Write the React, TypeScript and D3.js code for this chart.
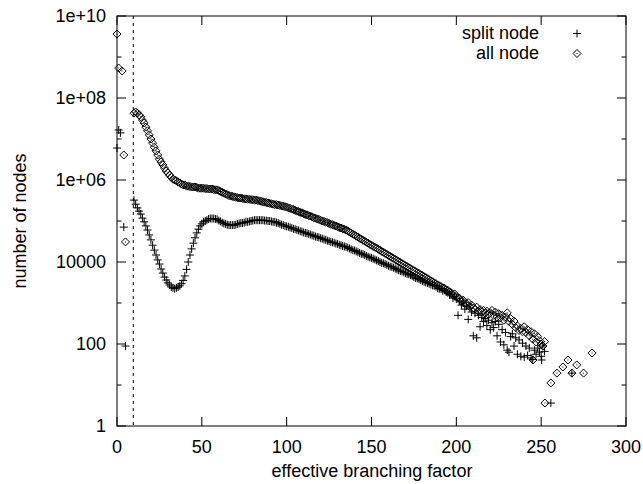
import React from 'react';
import * as d3 from 'd3';

// ---- data (values are log10 of node counts) ----
const xTickValues = [0, 50, 100, 150, 200, 250, 300];
const yMajorTicks = [1, 100, 1e4, 1e6, 1e8, 1e10];
const yMajorLabels = ['1', '100', '10000', '1e+06', '1e+08', '1e+10'];
const yMinorTicks = [10, 1e3, 1e5, 1e7, 1e9];
const cutoffX = 9.6;

const splitHeadX = [0, 1, 2, 4, 5];
const splitHeadLog = [6.78, 7.22, 7.15, 4.85, 1.95];
const allHeadX = [0, 1, 3, 4, 5];
const allHeadLog = [9.56, 8.73, 8.66, 6.61, 4.49];

const bandStartX = 10;

const splitBandLog = [
  5.51, 5.41, 5.32, 5.24, 5.17, 5.07, 4.98, 4.88, 4.78, 4.66, // 10-19
  4.54, 4.41, 4.29, 4.17, 4.05, 3.95, 3.83, 3.73, 3.63, 3.56, // 20-29
  3.49, 3.44, 3.39, 3.37, 3.35, 3.37, 3.39, 3.42, 3.47, 3.55, // 30-39
  3.66, 3.82, 4.00, 4.17, 4.32, 4.46, 4.59, 4.71, 4.80, 4.88, // 40-49
  4.93, 4.98, 5.00, 5.02, 5.05, 5.06, 5.06, 5.06, 5.05, 5.04, // 50-59
  5.01, 4.99, 4.96, 4.94, 4.93, 4.91, 4.90, 4.90, 4.90, 4.90, // 60-69
  4.91, 4.93, 4.94, 4.95, 4.95, 4.96, 4.98, 4.98, 4.99, 5.00, // 70-79
  5.01, 5.02, 5.02, 5.02, 5.02, 5.02, 5.02, 5.01, 5.01, 5.00, // 80-89
  5.00, 4.99, 4.98, 4.98, 4.96, 4.95, 4.93, 4.91, 4.90, 4.88, // 90-99
  4.87, 4.86, 4.84, 4.83, 4.81, 4.80, 4.78, 4.77, 4.75, 4.74, // 100-109
  4.72, 4.71, 4.70, 4.68, 4.67, 4.65, 4.64, 4.62, 4.61, 4.60, // 110-119
  4.58, 4.57, 4.55, 4.54, 4.52, 4.51, 4.49, 4.48, 4.47, 4.45, // 120-129
  4.44, 4.42, 4.41, 4.39, 4.38, 4.37, 4.35, 4.33, 4.31, 4.29, // 130-139
  4.28, 4.26, 4.24, 4.22, 4.20, 4.19, 4.17, 4.15, 4.13, 4.11, // 140-149
  4.10, 4.08, 4.06, 4.04, 4.02, 4.00, 3.98, 3.97, 3.95, 3.93, // 150-159
  3.91, 3.89, 3.88, 3.86, 3.84, 3.82, 3.80, 3.78, 3.77, 3.75, // 160-169
  3.73, 3.71, 3.70, 3.68, 3.66, 3.63, 3.61, 3.60, 3.58, 3.56, // 170-179
  3.54, 3.52, 3.50, 3.49, 3.47, 3.45, 3.43, 3.42, 3.40, 3.36, // 180-189
  3.35, 3.34, 3.30, 3.31, 3.27, 3.25, 3.20, 3.22, 3.12, 3.16, // 190-199
  3.10, 2.70, 3.05, 2.95, 3.02, 2.85, 2.92, 2.60, 2.88, 2.78, // 200-209
  2.20, 2.75, 2.15, 2.70, 2.42, 2.65, 2.55, 2.62, 2.45, 2.58, // 210-219
  2.35, 2.52, 2.40, 2.55, 2.20, 2.48, 2.05, 2.35, 1.98, 2.28, // 220-229
  1.85, 1.80, 2.18, 2.25, 1.95, 2.15, 1.75, 2.10, 1.70, 2.02, // 230-239
  1.68, 1.95, 1.72, 1.90, 1.66, 1.62, 1.85, 1.75, 1.90, 1.80, // 240-249
  1.70, 1.95, 1.82, // 250-252
];

const allBandLog = [
  7.63, 7.66, 7.63, 7.59, 7.54, 7.46, 7.39, 7.29, 7.20, 7.10, // 10-19
  7.00, 6.90, 6.80, 6.71, 6.61, 6.51, 6.44, 6.37, 6.29, 6.22, // 20-29
  6.17, 6.12, 6.07, 6.02, 6.00, 5.98, 5.95, 5.93, 5.90, 5.88, // 30-39
  5.88, 5.85, 5.85, 5.84, 5.83, 5.83, 5.83, 5.82, 5.80, 5.80, // 40-49
  5.80, 5.80, 5.79, 5.79, 5.78, 5.78, 5.78, 5.77, 5.76, 5.76, // 50-59
  5.74, 5.72, 5.70, 5.68, 5.66, 5.64, 5.62, 5.61, 5.60, 5.59, // 60-69
  5.58, 5.57, 5.56, 5.56, 5.55, 5.54, 5.54, 5.53, 5.53, 5.52, // 70-79
  5.52, 5.51, 5.51, 5.50, 5.49, 5.48, 5.47, 5.46, 5.45, 5.44, // 80-89
  5.43, 5.42, 5.41, 5.40, 5.40, 5.39, 5.38, 5.37, 5.36, 5.35, // 90-99
  5.34, 5.32, 5.31, 5.29, 5.28, 5.26, 5.24, 5.23, 5.21, 5.20, // 100-109
  5.18, 5.16, 5.15, 5.13, 5.12, 5.10, 5.08, 5.07, 5.05, 5.04, // 110-119
  5.02, 5.00, 4.99, 4.97, 4.96, 4.94, 4.92, 4.91, 4.89, 4.88, // 120-129
  4.86, 4.84, 4.83, 4.81, 4.80, 4.78, 4.76, 4.73, 4.71, 4.68, // 130-139
  4.66, 4.63, 4.61, 4.58, 4.56, 4.53, 4.51, 4.48, 4.46, 4.43, // 140-149
  4.41, 4.38, 4.36, 4.34, 4.31, 4.29, 4.26, 4.24, 4.21, 4.19, // 150-159
  4.16, 4.14, 4.11, 4.09, 4.06, 4.04, 4.01, 3.99, 3.96, 3.94, // 160-169
  3.91, 3.89, 3.86, 3.84, 3.81, 3.79, 3.77, 3.74, 3.72, 3.69, // 170-179
  3.67, 3.64, 3.62, 3.59, 3.57, 3.54, 3.52, 3.49, 3.47, 3.44, // 180-189
  3.42, 3.40, 3.37, 3.36, 3.32, 3.31, 3.27, 3.25, 3.19, 3.22, // 190-199
  3.15, 3.13, 3.11, 3.03, 3.07, 2.99, 2.98, 3.01, 2.91, 2.95, // 200-209
  2.88, 2.85, 2.90, 2.80, 2.84, 2.78, 2.82, 2.75, 2.80, 2.72, // 210-219
  2.76, 2.82, 2.70, 2.78, 2.66, 2.74, 2.64, 2.70, 2.58, 2.66, // 220-229
  2.76, 2.55, 2.62, 2.48, 2.56, 2.40, 2.44, 2.33, 2.38, 2.30, // 230-239
  2.42, 2.28, 2.35, 2.20, 2.30, 2.12, 2.25, 2.05, 2.18, 2.08, // 240-249
  2.00, 1.95, 2.06, // 250-252
];

const splitTailX = [250.3, 255.7, 268.1];
const splitTailLog = [1.61, 0.56, 1.29];
const allTailX = [245.2, 252.2, 255.7, 259.3, 262.8, 265.8, 268.1, 271, 275, 280];
const allTailLog = [1.61, 0.56, 1.05, 1.29, 1.44, 1.61, 1.29, 1.49, 1.29, 1.78];

// ---- layout ----
const W = 643;
const H = 484;
const plotLeft = 117;
const plotRight = 626;
const plotTop = 16;
const plotBottom = 426;
const FONT = '"Liberation Sans", Arial, Helvetica, sans-serif';
const FONT_SIZE = 18;

type Pt = [number, number];

function buildPoints(headX: number[], headLog: number[], band: number[], tailX: number[], tailLog: number[]): Pt[] {
  const pts: Pt[] = [];
  headX.forEach((x, i) => pts.push([x, Math.pow(10, headLog[i])]));
  band.forEach((l, i) => pts.push([bandStartX + i, Math.pow(10, l)]));
  tailX.forEach((x, i) => pts.push([x, Math.pow(10, tailLog[i])]));
  return pts;
}

const splitPoints = buildPoints(splitHeadX, splitHeadLog, splitBandLog, splitTailX, splitTailLog);
const allPoints = buildPoints(allHeadX, allHeadLog, allBandLog, allTailX, allTailLog);

const S = 4; // marker half size

function plusPath(cx: number, cy: number) {
  return `M${cx - S},${cy}h${2 * S}M${cx},${cy - S}v${2 * S}`;
}
function diamondPath(cx: number, cy: number) {
  return `M${cx},${cy - S}l${S},${S}l${-S},${S}l${-S},${-S}z`;
}

export default function App() {
  const x = d3.scaleLinear().domain([0, 300]).range([plotLeft, plotRight]);
  const y = d3.scaleLog().domain([1, 1e10]).range([plotBottom, plotTop]);

  const splitD = splitPoints.map(([a, b]) => plusPath(x(a), y(b))).join('');
  const allD = allPoints.map(([a, b]) => diamondPath(x(a), y(b))).join('');
  const allDots = allPoints.map(([a, b]) => `M${x(a) - 0.5},${y(b)}h1`).join('');

  const major = 9;
  const minor = 4.5;

  return (
    <svg width={W} height={H} style={{ position: 'absolute', left: 0, top: 0, background: '#fff' }}>
      <rect x={0} y={0} width={W} height={H} fill="#fff" />
      {/* ticks */}
      <g stroke="#000" strokeWidth={1}>
        {xTickValues.map((t) => (
          <g key={'xt' + t}>
            <line x1={x(t)} x2={x(t)} y1={plotBottom} y2={plotBottom - major} />
            <line x1={x(t)} x2={x(t)} y1={plotTop} y2={plotTop + major} />
          </g>
        ))}
        {yMajorTicks.map((t) => (
          <g key={'yt' + t}>
            <line x1={plotLeft} x2={plotLeft + major} y1={y(t)} y2={y(t)} />
            <line x1={plotRight} x2={plotRight - major} y1={y(t)} y2={y(t)} />
          </g>
        ))}
        {yMinorTicks.map((t) => (
          <g key={'ym' + t}>
            <line x1={plotLeft} x2={plotLeft + minor} y1={y(t)} y2={y(t)} />
            <line x1={plotRight} x2={plotRight - minor} y1={y(t)} y2={y(t)} />
          </g>
        ))}
      </g>
      {/* cutoff line */}
      <line x1={x(cutoffX)} x2={x(cutoffX)} y1={plotTop} y2={plotBottom} stroke="#000" strokeWidth={1} strokeDasharray="3,4" />
      {/* data */}
      <path d={splitD} fill="none" stroke="#000" strokeWidth={1} />
      <path d={allD} fill="none" stroke="#000" strokeWidth={1} />
      <path d={allDots} fill="none" stroke="#000" strokeWidth={1} />
      {/* border */}
      <rect x={plotLeft} y={plotTop} width={plotRight - plotLeft} height={plotBottom - plotTop} fill="none" stroke="#000" strokeWidth={1} />
      {/* labels */}
      <g fontFamily={FONT} fontSize={FONT_SIZE} fill="#000">
        {xTickValues.map((t) => (
          <text key={'xl' + t} x={x(t)} y={453} textAnchor="middle">{t}</text>
        ))}
        {yMajorTicks.map((t, i) => (
          <text key={'yl' + t} x={106} y={y(t) + 6.4} textAnchor="end">{yMajorLabels[i]}</text>
        ))}
        <text x={372} y={477} textAnchor="middle">effective branching factor</text>
        <text transform={`translate(26,221) rotate(-90)`} textAnchor="middle">number of nodes</text>
        <text x={539} y={38.5} textAnchor="end">split node</text>
        <text x={539} y={58.5} textAnchor="end">all node</text>
      </g>
      <path d={plusPath(577, 33.5)} stroke="#000" strokeWidth={1} fill="none" />
      <path d={diamondPath(577, 53.5)} stroke="#000" strokeWidth={1} fill="none" />
      <path d={`M576.5,53.5h1`} stroke="#000" strokeWidth={1} />
    </svg>
  );
}
